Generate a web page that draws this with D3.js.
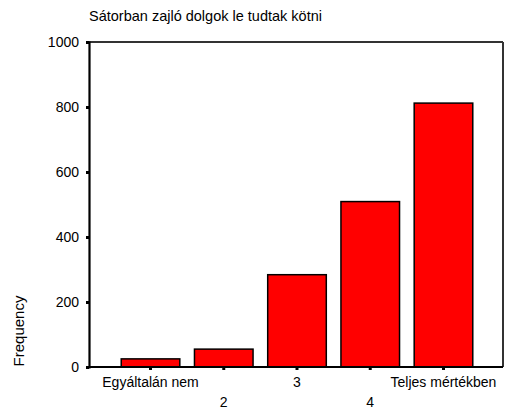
<!DOCTYPE html>
<html>
<head>
<meta charset="utf-8">
<script src="https://cdn.jsdelivr.net/npm/d3@7"></script>
<style>
body { margin: 0; background: #fff; }
text { font-family: "Liberation Sans", Arial, sans-serif; fill: #000; }
</style>
</head>
<body>
<svg id="chart" width="505" height="413"></svg>
<script>
const title = "Sátorban zajló dolgok le tudtak kötni";
const categories = ["Egyáltalán nem", "2", "3", "4", "Teljes mértékben"];
const frequencies = [25, 55, 284, 509, 812];
const yTicks = [0, 200, 400, 600, 800, 1000];
const yLabel = "Frequency";

const svg = d3.select("#chart");
const frame = { left: 89, top: 42, right: 503, bottom: 367 };

const x = d3.scaleBand().domain(categories).range([113.9, 480.1]).paddingInner(0.2).paddingOuter(0.1);
const y = d3.scaleLinear().domain([0, 1000]).range([frame.bottom, frame.top]);

// bars
svg.append("g").selectAll("rect").data(frequencies).join("rect")
  .attr("x", (d, i) => x(categories[i]))
  .attr("y", d => y(d))
  .attr("width", x.bandwidth())
  .attr("height", d => y(0) - y(d))
  .attr("fill", "#ff0000")
  .attr("stroke", "#000")
  .attr("stroke-width", 1.5);

// frame: top and right
svg.append("line").attr("x1", frame.left).attr("x2", frame.right).attr("y1", frame.top).attr("y2", frame.top)
  .attr("stroke", "#333").attr("stroke-width", 2);
svg.append("line").attr("x1", frame.right).attr("x2", frame.right).attr("y1", frame.top).attr("y2", frame.bottom)
  .attr("stroke", "#333").attr("stroke-width", 2);

// y axis
const yAxis = svg.append("g").attr("transform", `translate(${frame.left},0)`)
  .call(d3.axisLeft(y).tickValues(yTicks).tickSize(3).tickPadding(7).tickFormat(d3.format("d")));
yAxis.select(".domain").attr("stroke", "#000").attr("stroke-width", 2.2);
yAxis.selectAll(".tick line").attr("stroke", "#000").attr("stroke-width", 3);
yAxis.selectAll(".tick text").style("font-size", "14px").attr("font-family", null);

// x axis
const xAxis = svg.append("g").attr("transform", `translate(0,${frame.bottom})`)
  .call(d3.axisBottom(x).tickSize(3).tickPadding(4));
xAxis.select(".domain").attr("d", `M${frame.left},0H${frame.right}`).attr("stroke", "#000").attr("stroke-width", 2);
xAxis.selectAll(".tick line").attr("stroke", "#000").attr("stroke-width", 3);
xAxis.selectAll(".tick text")
  .style("font-size", "14px").attr("font-family", null)
  .attr("dy", null)
  .attr("y", (d, i) => i % 2 === 0 ? 20 : 40);

// title
svg.append("text").attr("x", 89).attr("y", 21).style("font-size", "14.5px").text(title);

// y label
svg.append("text").attr("transform", "translate(24,331) rotate(-90)")
  .attr("text-anchor", "middle").style("font-size", "15px").text(yLabel);
</script>
</body>
</html>
